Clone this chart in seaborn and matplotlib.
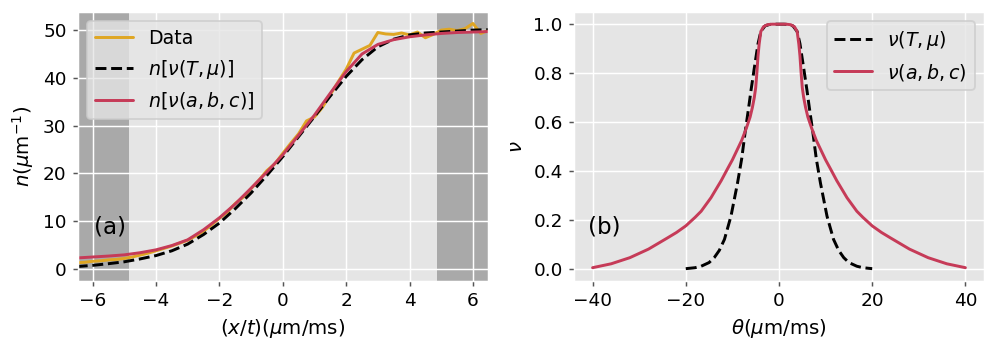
import matplotlib
matplotlib.use("Agg")
import matplotlib.pyplot as plt
import seaborn as sns

# panel (a): density n against x/t
xa = [-6.5, -6.0, -5.5, -5.0, -4.5, -4.0, -3.5, -3.0, -2.5, -2.0, -1.5, -1.0, -0.5, 0.0,
      0.5, 1.0, 1.5, 2.0, 2.5, 3.0, 3.5, 4.0, 4.5, 5.0, 5.5, 6.0, 6.5]
n_Tmu = [0.5, 0.75, 1.1, 1.5, 2.1, 2.8, 3.8, 5.2, 7.2, 9.6, 12.6, 15.9, 19.6, 23.5,
         27.7, 31.9, 36.2, 40.3, 43.8, 46.5, 48.1, 49.0, 49.4, 49.6, 49.8, 50.0, 50.1]
n_abc = [2.3, 2.5, 2.7, 2.95, 3.4, 4.0, 4.9, 6.1, 8.2, 10.7, 13.6, 16.9, 20.3, 23.9,
         28.0, 32.2, 36.8, 41.3, 45.0, 47.0, 48.0, 48.6, 49.0, 49.3, 49.5, 49.6, 49.7]

x_data = [-6.5, -6.25, -6.0, -5.75, -5.5, -5.25, -5.0, -4.75, -4.5, -4.25, -4.0, -3.75,
          -3.5, -3.25, -3.0, -2.75, -2.5, -2.25, -2.0, -1.75, -1.5, -1.25, -1.0, -0.75,
          -0.5, -0.25, 0.0, 0.25, 0.5, 0.75, 1.0, 1.25, 1.5, 1.75, 2.0, 2.25, 2.5, 2.75,
          3.0, 3.25, 3.5, 3.75, 4.0, 4.25, 4.5, 4.75, 5.0, 5.25, 5.5, 5.75, 6.0, 6.25, 6.5]
n_data = [1.3, 1.4, 1.6, 1.7, 1.9, 2.0, 2.2, 2.5, 2.9, 3.3, 3.8, 4.3,
          4.8, 5.4, 6.0, 6.9, 7.9, 9.2, 10.6, 11.9, 13.7, 15.0, 16.8, 18.6,
          20.6, 22.0, 24.2, 26.3, 28.3, 31.0, 31.8, 33.8, 36.5, 39.2, 41.8, 45.2, 46.0, 46.8,
          49.5, 49.2, 49.1, 49.4, 49.0, 49.6, 48.4, 49.1, 50.0, 50.2, 49.9, 50.3, 51.4, 49.3, 50.0]

shade_edge = 4.86

# panel (b): nu against theta
th_abc = [-40, -36, -32, -28, -24, -22, -20, -18, -16.7, -14.6, -12.4, -11, -10, -9, -8,
          -7.5, -7, -6.2, -5.7, -5.3, -5.0, -4.75, -4.5, -4.26, -3.9, -3.3, -2.5, -1.5, 0,
          1.5, 2.5, 3.3, 3.9, 4.26, 4.5, 4.75, 5.0, 5.3, 5.7, 6.2, 7, 7.5, 8, 9, 10, 11,
          12.4, 14.6, 16.7, 18, 20, 22, 24, 28, 32, 36, 40]
nu_abc = [0.004, 0.02, 0.045, 0.08, 0.125, 0.148, 0.175, 0.21, 0.235, 0.29, 0.36, 0.41,
          0.445, 0.485, 0.525, 0.55, 0.575, 0.62, 0.66, 0.70, 0.74, 0.80, 0.87, 0.918,
          0.97, 0.99, 0.998, 1.0, 1.0,
          1.0, 0.998, 0.99, 0.97, 0.918, 0.87, 0.80, 0.74, 0.70, 0.66, 0.62, 0.575, 0.55,
          0.525, 0.485, 0.445, 0.41, 0.36, 0.29, 0.235, 0.21, 0.175, 0.148, 0.125, 0.08,
          0.045, 0.02, 0.004]
th_Tmu = [-20, -18, -16.7, -15, -13.9, -12.8, -11.7, -10.3, -8.9, -8, -7.25, -6.5, -6,
          -5.3, -4.5, -3.9, -3, -2, -1, 0, 1, 2, 3, 3.9, 4.5, 5.3, 6, 6.5, 7.25, 8, 8.9,
          10.3, 11.7, 12.8, 13.9, 15, 16.7, 18, 20]
nu_Tmu = [0.0, 0.004, 0.01, 0.025, 0.045, 0.075, 0.12, 0.215, 0.35, 0.45, 0.56, 0.66,
          0.73, 0.82, 0.92, 0.97, 0.993, 0.999, 1.0, 1.0, 1.0, 0.999, 0.993, 0.97, 0.92,
          0.82, 0.73, 0.66, 0.56, 0.45, 0.35, 0.215, 0.12, 0.075, 0.045, 0.025, 0.01,
          0.004, 0.0]

gold = '#dfa623'
red = '#c63b58'

sns.set_style("darkgrid", {
    'axes.facecolor': '#e5e5e5',
    'grid.color': 'white',
    'xtick.bottom': True,
    'ytick.left': True,
    'xtick.color': '#555555',
    'ytick.color': '#555555',
    'text.color': 'black',
    'axes.labelcolor': 'black',
})
plt.rcParams['font.family'] = ['DejaVu Sans']
plt.rcParams['font.size'] = 10
plt.rcParams['axes.labelsize'] = 10.7
plt.rcParams['xtick.labelcolor'] = 'black'
plt.rcParams['ytick.labelcolor'] = 'black'
plt.rcParams['xtick.major.size'] = 2.5
plt.rcParams['ytick.major.size'] = 2.5
plt.rcParams['xtick.major.width'] = 0.8
plt.rcParams['ytick.major.width'] = 0.8
plt.rcParams['mathtext.fontset'] = 'dejavusans'

dpi = 132.8
fig, (ax1, ax2) = plt.subplots(1, 2, figsize=(996 / dpi, 352 / dpi), dpi=dpi)
fig.subplots_adjust(left=0.078, right=0.988, bottom=0.202, top=0.966, wspace=0.21)

# panel (a)
ax1.axvspan(-7, -shade_edge, color='#a9a9a9', lw=0, zorder=0.4)
ax1.axvspan(shade_edge, 7, color='#a9a9a9', lw=0, zorder=0.4)
sns.lineplot(x=x_data, y=n_data, ax=ax1, color=gold, lw=1.6, label='Data')
sns.lineplot(x=xa, y=n_Tmu, ax=ax1, color='black', lw=1.6, linestyle='--',
             label=r'$n[\nu(T,\mu)]$')
sns.lineplot(x=xa, y=n_abc, ax=ax1, color=red, lw=1.6, label=r'$n[\nu(a,b,c)]$')
ax1.set_xlim(-6.47, 6.47)
ax1.set_ylim(-2.5, 53.8)
ax1.set_xticks([-6, -4, -2, 0, 2, 4, 6])
ax1.set_yticks([0, 10, 20, 30, 40, 50])
ax1.set_xlabel(r'$(x/t)(\mu$m/ms$)$')
ax1.set_ylabel(r'$n(\mu$m$^{-1})$')
ax1.legend(loc='upper left', fontsize=10.3)
ax1.text(0.04, 0.2, '(a)', transform=ax1.transAxes, fontsize=12.5, va='center')

# panel (b)
sns.lineplot(x=th_Tmu, y=nu_Tmu, ax=ax2, color='black', lw=1.6, linestyle='--',
             label=r'$\nu(T,\mu)$')
sns.lineplot(x=th_abc, y=nu_abc, ax=ax2, color=red, lw=1.6, label=r'$\nu(a,b,c)$')
ax2.set_xticks([-40, -20, 0, 20, 40])
ax2.set_yticks([0.0, 0.2, 0.4, 0.6, 0.8, 1.0])
ax2.set_xlabel(r'$\theta(\mu$m/ms$)$')
ax2.set_ylabel(r'$\nu$')
ax2.legend(loc='upper right', fontsize=10.3)
ax2.text(0.034, 0.2, '(b)', transform=ax2.transAxes, fontsize=12.5, va='center')

fig.savefig('out.png', dpi=dpi)
